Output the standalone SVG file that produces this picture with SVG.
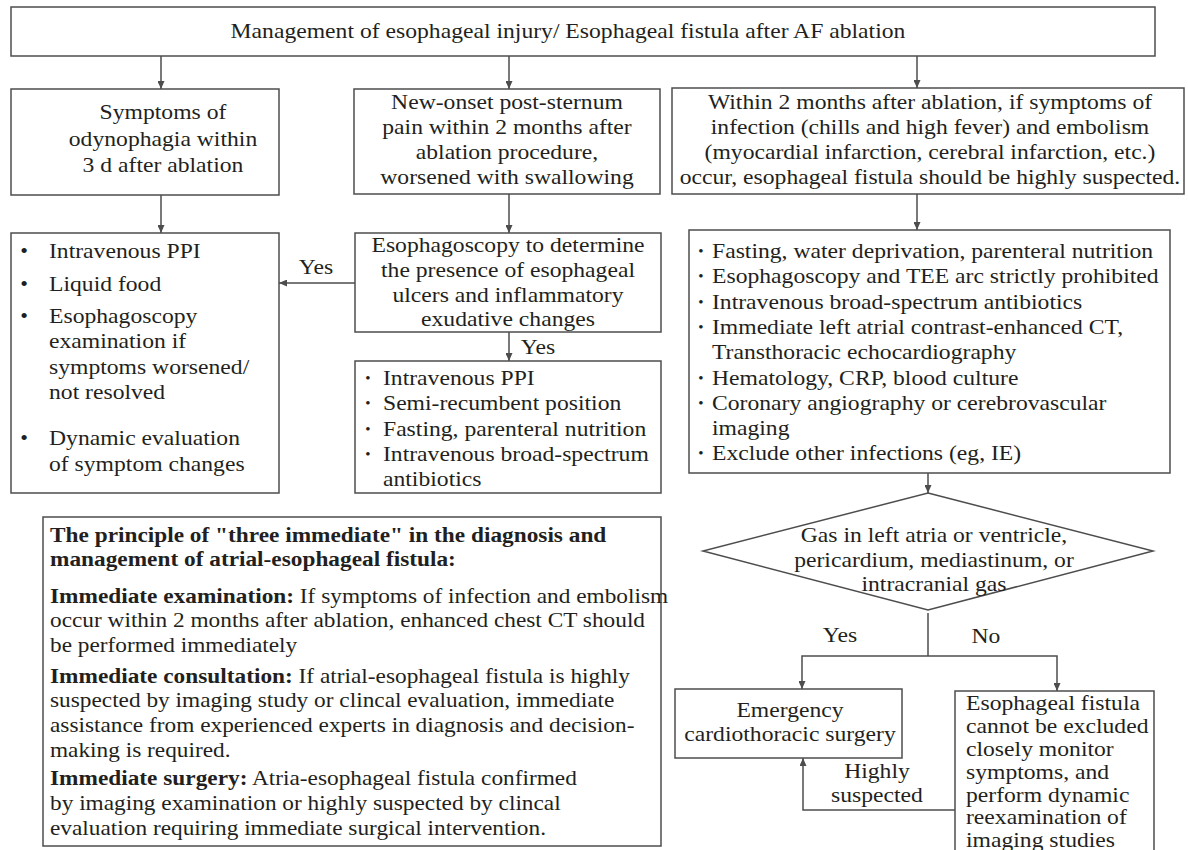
<svg xmlns="http://www.w3.org/2000/svg" width="1188" height="850" viewBox="0 0 1188 850">
<defs>
<style>
.box{fill:#fff;stroke:#4d4d4d;stroke-width:1.5}
.t{font-family:"Liberation Serif","Times New Roman",serif;font-size:22px;fill:#231f20}
.c{text-anchor:middle}
.b{font-weight:bold}
.bl{font-family:"Liberation Serif","Times New Roman",serif;fill:#231f20;text-anchor:middle}
.conn{fill:none;stroke:#4d4d4d;stroke-width:1.5}
</style>
<marker id="ah" markerUnits="userSpaceOnUse" markerWidth="8" markerHeight="7" refX="8" refY="3.5" orient="auto">
<path d="M0,0 L8,3.5 L0,7 z" fill="#4d4d4d"/>
</marker>
</defs>
<rect width="1188" height="850" fill="#fff"/>

<g id="connectors">
<line class="conn" x1="161" y1="56" x2="161" y2="89" marker-end="url(#ah)"/>
<line class="conn" x1="509" y1="56" x2="509" y2="89" marker-end="url(#ah)"/>
<line class="conn" x1="917" y1="56" x2="917" y2="88" marker-end="url(#ah)"/>
<line class="conn" x1="161" y1="195" x2="161" y2="233" marker-end="url(#ah)"/>
<line class="conn" x1="509" y1="194" x2="509" y2="233" marker-end="url(#ah)"/>
<line class="conn" x1="917" y1="194" x2="917" y2="230" marker-end="url(#ah)"/>
<line class="conn" x1="355" y1="283" x2="279" y2="283" marker-end="url(#ah)"/>
<line class="conn" x1="509" y1="332" x2="509" y2="361" marker-end="url(#ah)"/>
<line class="conn" x1="928" y1="473" x2="928" y2="493" marker-end="url(#ah)"/>
<polyline class="conn" points="928,613 928,656"/>
<polyline class="conn" points="928,656 802,656 802,689" marker-end="url(#ah)"/>
<polyline class="conn" points="928,656 1057,656 1057,691" marker-end="url(#ah)"/>
<polyline class="conn" points="955,810 803,810 803,758" marker-end="url(#ah)"/>
<g class="t c">
<text transform="matrix(1.075 0 0 1 -23.7 0)" x="316" y="274">Yes</text>
<text transform="matrix(1.075 0 0 1 -40.35 0)" x="538" y="354">Yes</text>
<text transform="matrix(1.075 0 0 1 -63 0)" x="840" y="642">Yes</text>
<text transform="matrix(1.075 0 0 1 -73.95 0)" x="986" y="643">No</text>
<g transform="matrix(1.075 0 0 1 -65.775 0)">
<text x="877" y="778">Highly</text>
<text x="877" y="802">suspected</text>
</g>
</g>
</g>

<g id="title">
<rect class="box" x="11" y="7" width="1144" height="49"/>
<text class="t c" transform="matrix(1.075 0 0 1 -42.6 0)" x="568" y="38">Management of esophageal injury/ Esophageal fistula after AF ablation</text>
</g>

<g id="odynophagia">
<rect class="box" x="11" y="89" width="268" height="106"/>
<g class="t c" transform="matrix(1.075 0 0 1 -12.225 0)">
<text x="163" y="119">Symptoms of</text>
<text x="163" y="146">odynophagia within</text>
<text x="163" y="172">3 d after ablation</text>
</g>
</g>

<g id="sternum-pain">
<rect class="box" x="354" y="89" width="306" height="105"/>
<g class="t c" transform="matrix(1.075 0 0 1 -38.025 0)">
<text x="507" y="109">New-onset post-sternum</text>
<text x="507" y="134">pain within 2 months after</text>
<text x="507" y="159">ablation procedure,</text>
<text x="507" y="184">worsened with swallowing</text>
</g>
</g>

<g id="infection-embolism">
<rect class="box" x="672" y="88" width="512" height="106"/>
<g class="t c" transform="matrix(1.075 0 0 1 -69.75 0)">
<text x="930" y="109">Within 2 months after ablation, if symptoms of</text>
<text x="930" y="134">infection (chills and high fever) and embolism</text>
<text x="930" y="159">(myocardial infarction, cerebral infarction, etc.)</text>
<text x="930" y="184">occur, esophageal fistula should be highly suspected.</text>
</g>
</g>

<g id="mild-management">
<rect class="box" x="11" y="233" width="268" height="260"/>
<g class="bl" font-size="22">
<text x="24" y="258">•</text>
<text x="24" y="291">•</text>
<text x="24" y="323">•</text>
<text x="24" y="445">•</text>
</g>
<g class="t" transform="matrix(1.075 0 0 1 -3.675 0)">
<text x="49" y="258">Intravenous PPI</text>
<text x="49" y="291">Liquid food</text>
<text x="49" y="323">Esophagoscopy</text>
<text x="49" y="348">examination if</text>
<text x="49" y="374">symptoms worsened/</text>
<text x="49" y="399">not resolved</text>
<text x="49" y="445">Dynamic evaluation</text>
<text x="49" y="471">of symptom changes</text>
</g>
</g>

<g id="esophagoscopy">
<rect class="box" x="355" y="233" width="306" height="99"/>
<g class="t c" transform="matrix(1.075 0 0 1 -38.1 0)">
<text x="508" y="252">Esophagoscopy to determine</text>
<text x="508" y="277">the presence of esophageal</text>
<text x="508" y="302">ulcers and inflammatory</text>
<text x="508" y="326">exudative changes</text>
</g>
</g>

<g id="ulcer-management">
<rect class="box" x="355" y="361" width="306" height="132"/>
<g class="bl" font-size="15">
<text x="368" y="383">•</text>
<text x="368" y="408">•</text>
<text x="368" y="434">•</text>
<text x="368" y="459">•</text>
</g>
<g class="t" transform="matrix(1.075 0 0 1 -28.725 0)">
<text x="383" y="385">Intravenous PPI</text>
<text x="383" y="410">Semi-recumbent position</text>
<text x="383" y="436">Fasting, parenteral nutrition</text>
<text x="383" y="461">Intravenous broad-spectrum</text>
<text x="383" y="486">antibiotics</text>
</g>
</g>

<g id="fistula-management">
<rect class="box" x="689" y="230" width="481" height="243"/>
<g class="bl" font-size="15">
<text x="701" y="256">•</text>
<text x="701" y="281">•</text>
<text x="701" y="307">•</text>
<text x="701" y="332">•</text>
<text x="701" y="383">•</text>
<text x="701" y="408">•</text>
<text x="701" y="458">•</text>
</g>
<g class="t" transform="matrix(1.075 0 0 1 -53.4 0)">
<text x="712" y="258">Fasting, water deprivation, parenteral nutrition</text>
<text x="712" y="283">Esophagoscopy and TEE arc strictly prohibited</text>
<text x="712" y="309">Intravenous broad-spectrum antibiotics</text>
<text x="712" y="334">Immediate left atrial contrast-enhanced CT,</text>
<text x="712" y="359">Transthoracic echocardiography</text>
<text x="712" y="385">Hematology, CRP, blood culture</text>
<text x="712" y="410">Coronary angiography or cerebrovascular</text>
<text x="712" y="435">imaging</text>
<text x="712" y="460">Exclude other infections (eg, IE)</text>
</g>
</g>

<g id="gas-decision">
<polygon class="box" points="928,493 1153,551 928,610 703,551"/>
<g class="t c" transform="matrix(1.075 0 0 1 -70.05 0)">
<text x="934" y="542">Gas in left atria or ventricle,</text>
<text x="934" y="567">pericardium, mediastinum, or</text>
<text x="934" y="591">intracranial gas</text>
</g>
</g>

<g id="emergency-surgery">
<rect class="box" x="675" y="689" width="227" height="69"/>
<g class="t c" transform="matrix(1.075 0 0 1 -59.25 0)">
<text x="790" y="717">Emergency</text>
<text x="790" y="741">cardiothoracic surgery</text>
</g>
</g>

<g id="monitor">
<rect class="box" x="955" y="691" width="199" height="175"/>
<g class="t" transform="matrix(1.075 0 0 1 -72.45 0)">
<text x="966" y="710">Esophageal fistula</text>
<text x="966" y="733">cannot be excluded</text>
<text x="966" y="756">closely monitor</text>
<text x="966" y="779">symptoms, and</text>
<text x="966" y="802">perform dynamic</text>
<text x="966" y="824">reexamination of</text>
<text x="966" y="847">imaging studies</text>
</g>
</g>

<g id="three-immediate">
<rect class="box" x="43" y="517" width="618" height="329"/>
<g class="t" transform="matrix(1.06 0 0 1 -3 0)">
<text class="b" x="50" y="542">The principle of "three immediate" in the diagnosis and</text>
<text class="b" x="50" y="566">management of atrial-esophageal fistula:</text>
<text x="50" y="603"><tspan class="b">Immediate examination:</tspan> If symptoms of infection and embolism</text>
<text x="50" y="627">occur within 2 months after ablation, enhanced chest CT should</text>
<text x="50" y="652">be performed immediately</text>
<text x="50" y="683"><tspan class="b">Immediate consultation:</tspan> If atrial-esophageal fistula is highly</text>
<text x="50" y="707">suspected by imaging study or clincal evaluation, immediate</text>
<text x="50" y="732">assistance from experienced experts in diagnosis and decision-</text>
<text x="50" y="757">making is required.</text>
<text x="50" y="785"><tspan class="b">Immediate surgery:</tspan> Atria-esophageal fistula confirmed</text>
<text x="50" y="810">by imaging examination or highly suspected by clincal</text>
<text x="50" y="835">evaluation requiring immediate surgical intervention.</text>
</g>
</g>
</svg>
